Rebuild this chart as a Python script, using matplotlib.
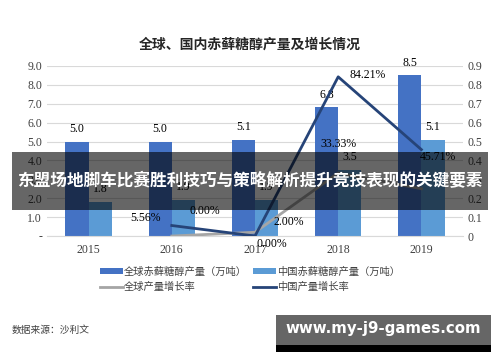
import numpy as np
import matplotlib
matplotlib.use('Agg')
import matplotlib.pyplot as plt
from matplotlib.patches import Rectangle

plt.rcParams['font.family'] = ['Liberation Serif', 'Noto Sans CJK SC']
plt.rcParams['font.size'] = 8.5

# 数据
years = ['2015', '2016', '2017', '2018', '2019']
global_output = [5.0, 5.0, 5.1, 6.8, 8.5]
china_output = [1.8, 1.9, 1.9, 3.5, 5.1]
global_growth = [None, 0.0, 0.02, 0.3333, 0.25]
china_growth = [None, 0.0556, 0.0, 0.8421, 0.4571]
left_ticks = [0, 1, 2, 3, 4, 5, 6, 7, 8, 9]
right_ticks = [0, 0.1, 0.2, 0.3, 0.4, 0.5, 0.6, 0.7, 0.8, 0.9]

c_global = '#4472C4'
c_china = '#5B9BD5'
c_gline = '#A5A5A5'
c_cline = '#264478'

fig = plt.figure(figsize=(5, 3.62), dpi=100)
ax = fig.add_axes([0.094, 0.348, 0.832, 0.47])
ax2 = ax.twinx()

x = np.arange(len(years))
w = 0.28
ax.bar(x - w / 2, global_output, w, color=c_global, label='全球赤藓糖醇产量（万吨）', zorder=2)
ax.bar(x + w / 2, china_output, w, color=c_china, label='中国赤藓糖醇产量（万吨）', zorder=2)
for i in range(len(years)):
    ax.text(x[i] - w / 2, global_output[i] + 0.35, f'{global_output[i]:.1f}', ha='center', va='bottom')
    ax.text(x[i] + w / 2, china_output[i] + 0.35, f'{china_output[i]:.1f}', ha='center', va='bottom')

ax.set_ylim(0, 9)
ax.set_yticks(left_ticks)
ax.set_yticklabels(['-'] + [f'{v:.1f}' for v in left_ticks[1:]])
ax.set_xlim(-0.5, 4.5)
ax.set_xticks(x)
ax.set_xticklabels(years)
ax.grid(axis='y', color='#D9D9D9', linewidth=0.8, zorder=0)
ax.set_axisbelow(True)

gx = x[1:]
gg = global_growth[1:]
cg = china_growth[1:]
ax2.plot(gx, gg, color=c_gline, linewidth=2, label='全球产量增长率', zorder=3)
ax2.plot(gx, cg, color=c_cline, linewidth=2, label='中国产量增长率', zorder=4)
ax2.set_ylim(0, 0.9)
ax2.set_yticks(right_ticks)
ax2.set_yticklabels(['0'] + [f'{v:.1f}' for v in right_ticks[1:]])

# 增长率标签
ax2.text(gx[0] - 0.32, cg[0] + 0.01, '5.56%', ha='center', va='bottom')
ax2.text(gx[1] + 0.2, cg[1] - 0.01, '0.00%', ha='center', va='top')
ax2.text(gx[2] + 0.35, cg[2] + 0.01, '84.21%', ha='center', va='center')
ax2.text(gx[3] + 0.2, cg[3] - 0.04, '45.71%', ha='center', va='center')
ax2.text(gx[0] + 0.4, gg[0] + 0.1, '0.00%', ha='center', va='bottom')
ax2.text(gx[1] + 0.4, gg[1] + 0.02, '2.00%', ha='center', va='bottom')
ax2.text(gx[2] + 0.0, gg[2] + 0.12, '33.33%', ha='center', va='bottom')

for a in (ax, ax2):
    for s in a.spines.values():
        s.set_visible(False)
    a.tick_params(length=0, labelsize=8.5, colors='#404040')
ax.spines['bottom'].set_visible(True)
ax.spines['bottom'].set_color('#D9D9D9')
ax.tick_params(axis='x', pad=6)

fig.text(0.5, 0.878, '全球、国内赤藓糖醇产量及增长情况', ha='center', va='center',
         fontsize=10, fontweight='bold', family=['Noto Sans CJK SC'], color='#262626')

# 图例（按行排列）
h1, l1 = ax.get_legend_handles_labels()
h2, l2 = ax2.get_legend_handles_labels()
handles = [h1[0], h2[0], h1[1], h2[1]]
labels = [l1[0], l2[0], l1[1], l2[1]]
fig.legend(handles, labels, loc='center', bbox_to_anchor=(0.5, 0.228), ncol=2, frameon=False,
           prop={'family': 'Noto Sans CJK SC', 'size': 7.4}, handlelength=2.2, handleheight=0.5,
           columnspacing=0.6, handletextpad=0.1, labelcolor='#404040')

fig.text(0.024, 0.088, '数据来源：沙利文', ha='left', va='center', fontsize=7,
         family=['Noto Sans CJK SC'], color='#404040')

# 横幅
fig.patches.append(Rectangle((0.024, 0.42), 0.952, 0.16, transform=fig.transFigure,
                             facecolor='black', alpha=0.6, zorder=10))
fig.text(0.5, 0.5, '东盟场地脚车比赛胜利技巧与策略解析提升竞技表现的关键要素', ha='center', va='center',
         fontsize=12, fontweight='bold', color='white', family=['Noto Sans CJK SC'], zorder=11)

# 水印
fig.patches.append(Rectangle((0.552, 0.028), 0.43, 0.102, transform=fig.transFigure,
                             facecolor='#666666', zorder=10))
fig.patches.append(Rectangle((0.552, 0.028), 0.43, 0.02, transform=fig.transFigure,
                             facecolor='black', zorder=10))
fig.text(0.767, 0.092, 'www.my-j9-games.com', ha='center', va='center', fontsize=10.8,
         fontweight='bold', color='white', family=['DejaVu Sans'], zorder=11)

fig.savefig('out.png', dpi=100)
